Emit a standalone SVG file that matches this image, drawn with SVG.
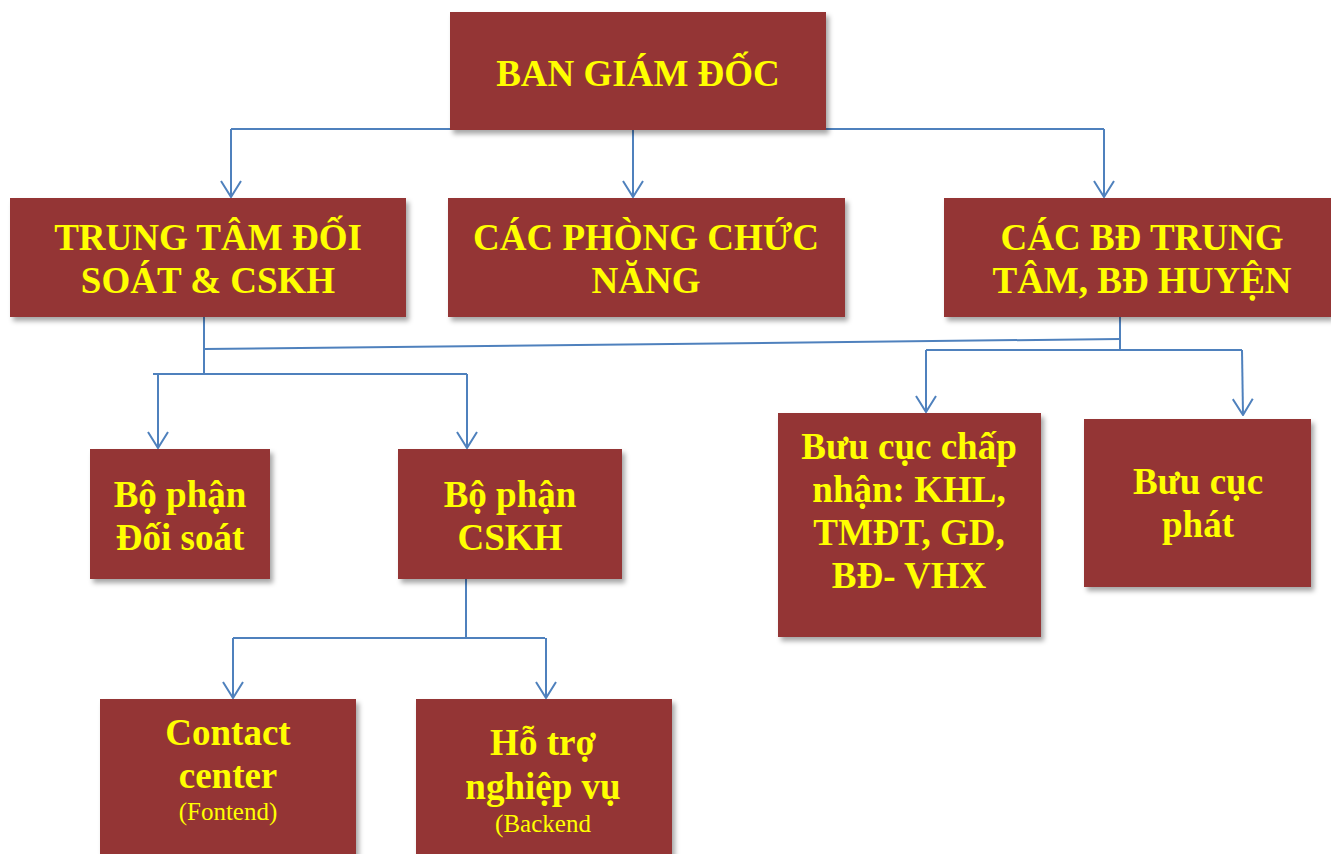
<svg xmlns="http://www.w3.org/2000/svg" width="1331" height="854" viewBox="0 0 1331 854">
  <defs>
    <filter id="shadow" x="-10%" y="-10%" width="125%" height="130%">
      <feDropShadow dx="3" dy="4" stdDeviation="2.5" flood-color="#000" flood-opacity="0.35"/>
    </filter>
    <!-- open V arrowhead, pointing along the line direction -->
    <marker id="arrow" viewBox="0 0 18 22" refX="17" refY="11" markerWidth="18" markerHeight="22" markerUnits="userSpaceOnUse" orient="auto">
      <path d="M1,1 L17,11 L1,21" fill="none" stroke="#4F81BD" stroke-width="2"/>
    </marker>
  </defs>
  <style>
    .box { fill: #943634; filter: url(#shadow); }
    .t { font-family: "Liberation Serif", "Times New Roman", serif; font-weight: bold; font-size: 37px; fill: #FFFF00; text-anchor: middle; }
    .s { font-family: "Liberation Serif", "Times New Roman", serif; font-size: 25px; fill: #FFFF00; text-anchor: middle; }
    .c { fill: none; stroke: #4F81BD; stroke-width: 2; }
    .a { fill: none; stroke: #4F81BD; stroke-width: 2; marker-end: url(#arrow); }
  </style>
  <rect width="1331" height="854" fill="#FFFFFF"/>

  <!-- connectors -->
  <g id="connectors">
    <!-- top level distribution -->
    <path class="c" d="M231,129 L1104,129"/>
    <path class="a" d="M231,129 L231,197"/>
    <path class="a" d="M633,130 L633,197"/>
    <path class="a" d="M1104,129 L1104,197"/>
    <!-- from TRUNG TAM -->
    <path class="c" d="M204,317 L204,374"/>
    <path class="c" d="M204,349 L1120,339"/>
    <path class="c" d="M153,374 L467,374"/>
    <path class="a" d="M158,374 L158,448"/>
    <path class="a" d="M467,374 L467,448"/>
    <!-- from CAC BD -->
    <path class="c" d="M1120,317 L1120,350"/>
    <path class="c" d="M926,350 L1242,350"/>
    <path class="a" d="M926,350 L926,412"/>
    <path class="a" d="M1242,350 L1243,415"/>
    <!-- from CSKH -->
    <path class="c" d="M466,579 L466,637"/>
    <path class="c" d="M233,638 L545,638"/>
    <path class="a" d="M233,638 L233,698"/>
    <path class="a" d="M546,638 L546,698"/>
  </g>

  <g id="ban-giam-doc">
    <rect class="box" x="450" y="12" width="376" height="118"/>
    <text class="t" x="638" y="86">BAN GIÁM ĐỐC</text>
  </g>

  <g id="trung-tam-doi-soat">
    <rect class="box" x="10" y="198" width="396" height="119"/>
    <text class="t" x="208" y="250">TRUNG TÂM ĐỐI</text>
    <text class="t" x="208" y="293">SOÁT &amp; CSKH</text>
  </g>

  <g id="cac-phong-chuc-nang">
    <rect class="box" x="448" y="198" width="397" height="119"/>
    <text class="t" x="646" y="250">CÁC PHÒNG CHỨC</text>
    <text class="t" x="646" y="293">NĂNG</text>
  </g>

  <g id="cac-bd-trung-tam">
    <rect class="box" x="944" y="198" width="387" height="119"/>
    <text class="t" x="1142" y="250">CÁC BĐ TRUNG</text>
    <text class="t" x="1142" y="293">TÂM, BĐ HUYỆN</text>
  </g>

  <g id="bo-phan-doi-soat">
    <rect class="box" x="90" y="449" width="180" height="130"/>
    <text class="t" x="180" y="507">Bộ phận</text>
    <text class="t" x="180" y="550">Đối soát</text>
  </g>

  <g id="bo-phan-cskh">
    <rect class="box" x="398" y="449" width="224" height="130"/>
    <text class="t" x="510" y="507">Bộ phận</text>
    <text class="t" x="510" y="550">CSKH</text>
  </g>

  <g id="buu-cuc-chap-nhan">
    <rect class="box" x="778" y="413" width="263" height="224"/>
    <text class="t" x="909" y="459">Bưu cục chấp</text>
    <text class="t" x="909" y="502">nhận: KHL,</text>
    <text class="t" x="909" y="545">TMĐT, GD,</text>
    <text class="t" x="909" y="588">BĐ- VHX</text>
  </g>

  <g id="buu-cuc-phat">
    <rect class="box" x="1084" y="419" width="227" height="168"/>
    <text class="t" x="1198" y="494">Bưu cục</text>
    <text class="t" x="1198" y="537">phát</text>
  </g>

  <g id="contact-center">
    <rect class="box" x="100" y="699" width="256" height="160"/>
    <text class="t" x="228" y="745">Contact</text>
    <text class="t" x="228" y="788">center</text>
    <text class="s" x="228" y="820">(Fontend)</text>
  </g>

  <g id="ho-tro-nghiep-vu">
    <rect class="box" x="416" y="699" width="256" height="160"/>
    <text class="t" x="543" y="755">Hỗ trợ</text>
    <text class="t" x="543" y="799">nghiệp vụ</text>
    <text class="s" x="543" y="832">(Backend</text>
  </g>
</svg>
